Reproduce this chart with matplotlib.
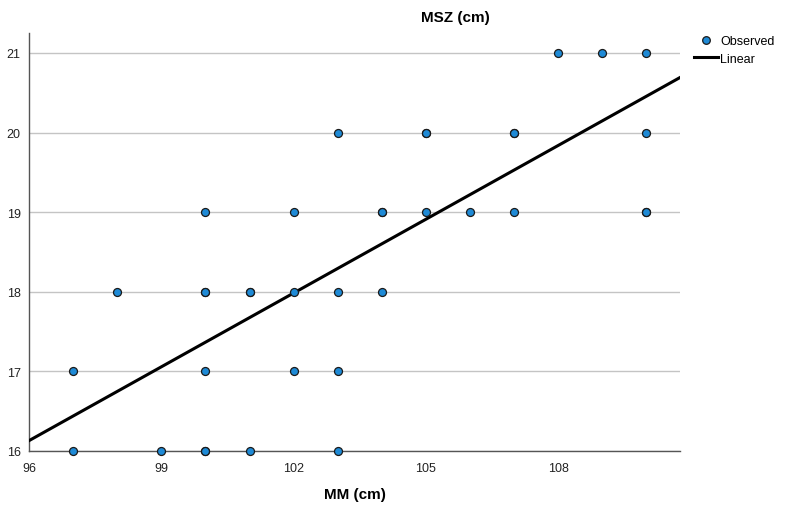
import numpy as np
import matplotlib
matplotlib.use("Agg")
import matplotlib.pyplot as plt
from matplotlib.lines import Line2D

plt.rcParams["font.family"] = ["Liberation Sans", "DejaVu Sans"]

# Observed points (MM, MSZ); repeated pairs are duplicates in the data
mm = [108, 109, 110,
      103, 105, 105, 107, 107, 110,
      100, 102, 104, 104, 105, 106, 107, 110, 110,
      98, 100, 100, 101, 101, 102, 103, 104,
      97, 100, 102, 103,
      97, 99, 100, 100, 101, 103]
msz = [21, 21, 21,
       20, 20, 20, 20, 20, 20,
       19, 19, 19, 19, 19, 19, 19, 19, 19,
       18, 18, 18, 18, 18, 18, 18, 18,
       17, 17, 17, 17,
       16, 16, 16, 16, 16, 16]

# Linear fit
fit_intercept = -13.534
fit_slope = 0.309

x_ticks = [96, 99, 102, 105, 108]
y_ticks = [16, 17, 18, 19, 20, 21]

fig = plt.figure(figsize=(7.86, 5.06), dpi=100)
ax = fig.add_axes([29 / 786, 54 / 506, 651 / 786, 418 / 506])

ax.set_xlim(96, 110.76)
ax.set_ylim(16, 21.25)

for yv in y_ticks:
    ax.axhline(yv, color="#c4c4c4", lw=1.0, zorder=1)

xs = np.array(ax.get_xlim())
ax.plot(xs, fit_intercept + fit_slope * xs, color="black", lw=2.2, zorder=3)

ax.scatter(mm, msz, s=33, color="#1e8ad6", edgecolors="#1a1a1a",
           linewidths=0.9, zorder=4, clip_on=False)

ax.set_xticks(x_ticks)
ax.set_yticks(y_ticks)
ax.tick_params(length=0, labelsize=9, colors="#222222", pad=6)
ax.tick_params(axis="x", pad=8)

for side in ["top", "right"]:
    ax.spines[side].set_visible(False)
for side in ["left", "bottom"]:
    ax.spines[side].set_color("#555555")
    ax.spines[side].set_linewidth(1.0)

fig.text(455 / 786, 1 - 18 / 506, "MSZ (cm)", ha="center", va="center",
         fontsize=11, fontweight="bold")
fig.text(355 / 786, 1 - 495 / 506, "MM (cm)", ha="center", va="center",
         fontsize=11, fontweight="bold")

handles = [
    Line2D([], [], marker="o", ls="none", markersize=5.5,
           markerfacecolor="#1e8ad6", markeredgecolor="#1a1a1a",
           markeredgewidth=0.9),
    Line2D([], [], color="black", lw=2.2),
]
fig.legend(handles, ["Observed", "Linear"], loc="upper left",
           bbox_to_anchor=(694 / 786, 1 - 36 / 506), frameon=False,
           fontsize=9, handlelength=1.9, handletextpad=0.2,
           labelspacing=0.45, borderaxespad=0, borderpad=0)

fig.savefig("out.png", dpi=100)
